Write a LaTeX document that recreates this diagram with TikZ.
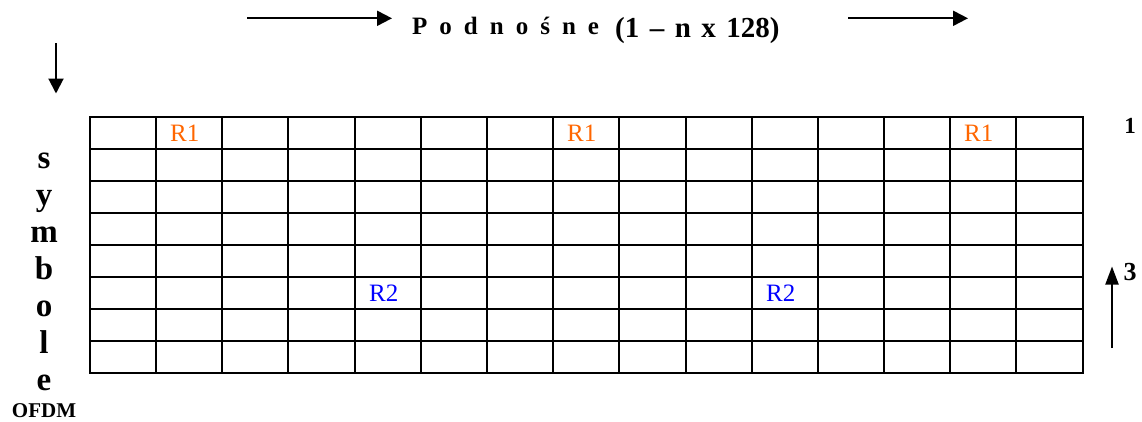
\documentclass[tikz,border=0pt]{standalone}
\usepackage{fontspec}
\setmainfont{Liberation Serif}
\usetikzlibrary{arrows.meta}
\definecolor{rone}{HTML}{FF6600}
\definecolor{rtwo}{HTML}{0000FF}
\begin{document}
\begin{tikzpicture}[x=1pt,y=-1pt,
  gridline/.style={line width=2.2pt},
  arr/.style={line width=2pt,-{Triangle[length=15pt,width=15pt]}},
  uparr/.style={line width=2pt,-{Triangle[length=18pt,width=13pt]}},
  rlab/.style={anchor=west,inner sep=0pt,font=\fontsize{25}{25}\selectfont},
  rlabone/.style={rlab,text=rone},
  rlabtwo/.style={rlab,text=rtwo},
  vlet/.style={anchor=base,inner sep=0pt,font=\fontsize{33}{33}\selectfont\bfseries},
  titlab/.style={anchor=base west,inner sep=0pt}
]
\useasboundingbox (0,0) rectangle (1142,421);

% grid 15 x 8
\foreach \x in {156,222,288,355,421,487,553,619,686,752,818,884,950,1016}
  \draw[gridline] (\x,117) -- (\x,373);
\foreach \y in {149,181,213,245,277,309,341}
  \draw[gridline] (90,\y) -- (1083,\y);
\draw[gridline] (90,117) rectangle (1083,373);

% labels in cells
\node[rlabone] (r1a) at (170,133) {R1};
\node[rlabone] (r1b) at (567,133) {R1};
\node[rlabone] (r1c) at (964,133) {R1};
\node[rlabtwo] (r2a) at (369,293) {R2};
\node[rlabtwo] (r2b) at (766,293) {R2};

% title
\node[titlab,font=\fontsize{25}{25}\selectfont\bfseries] (tit1) at (412,34)
  {P\hspace{12pt}o\hspace{12pt}d\hspace{12pt}n\hspace{12pt}o\hspace{12pt}ś\hspace{12pt}n\hspace{12pt}e};
\node[titlab,font=\fontsize{29}{29}\selectfont\bfseries] (tit2) at (615,37)
  {(1\hspace{10.5pt}–\hspace{10.5pt}n\hspace{10.5pt}x\hspace{10.5pt}128)};

% arrows
\coordinate (a1s) at (247,18.3);
\coordinate (a1e) at (392,18.3);
\coordinate (a2s) at (848,18.3);
\coordinate (a2e) at (968,18.3);
\coordinate (a3s) at (56,43);
\coordinate (a3e) at (56,93.5);
\coordinate (a4s) at (1112,348);
\coordinate (a4e) at (1112,266.5);
\draw[arr] (a1s) -- (a1e);
\draw[arr] (a2s) -- (a2e);
\draw[arr] (a3s) -- (a3e);
\draw[uparr] (a4s) -- (a4e);

% right numbers
\node[inner sep=0pt,font=\fontsize{23}{23}\selectfont\bfseries] (n1) at (1130,126) {1};
\node[inner sep=0pt,font=\fontsize{26}{26}\selectfont\bfseries] (n3) at (1130,272.5) {3};

% vertical word
\node[vlet] (v1) at (44,168) {s};
\node[vlet] (v2) at (44,205) {y};
\node[vlet] (v3) at (44,242) {m};
\node[vlet] (v4) at (44,279) {b};
\node[vlet] (v5) at (44,316) {o};
\node[vlet] (v6) at (44,353) {l};
\node[vlet] (v7) at (44,390) {e};
\node[anchor=base,inner sep=0pt,font=\fontsize{21}{21}\selectfont\bfseries] (ofdm) at (44,417) {OFDM};
\end{tikzpicture}
\end{document}
